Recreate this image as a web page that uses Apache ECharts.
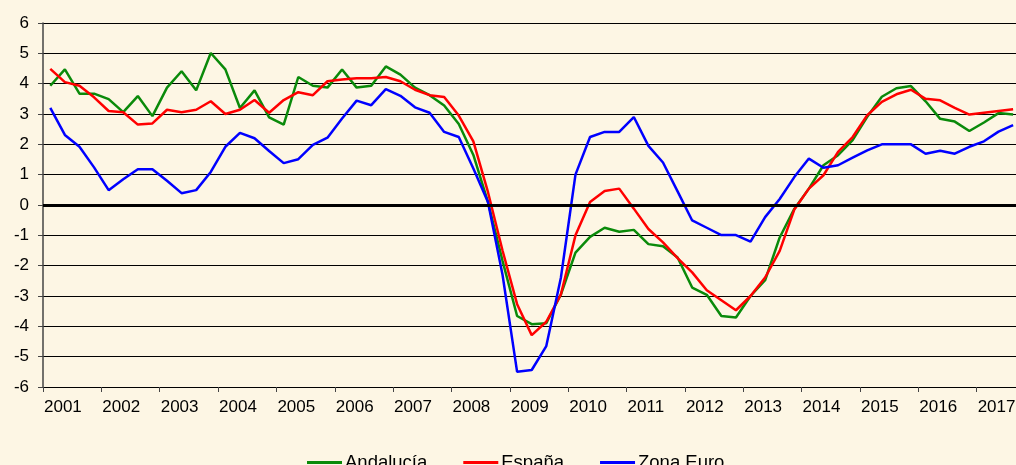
<!DOCTYPE html>
<html>
<head>
<meta charset="utf-8">
<title>Andalucía, España, Zona Euro</title>
<script src="https://cdn.jsdelivr.net/npm/echarts@6/dist/echarts.min.js"></script>
<style>
	* { margin: 0; padding: 0 }
	html, body { width: 100%; height: 100%; background: #FDF6E4; }
	#main { width: 1016px; height: 465px; }
</style>
</head>
<body>
<div id="main"></div>
<script type="text/javascript">
// años (eje X; el último marca el final de 2017) y datos trimestrales 2001T1 - 2017T3
var years = ['2001', '2002', '2003', '2004', '2005', '2006', '2007', '2008', '2009',
	'2010', '2011', '2012', '2013', '2014', '2015', '2016', '2017', ''];
var seriesNames = ['Andalucía', 'España', 'Zona Euro'];

var andalucia = [3.93, 4.47, 3.67, 3.67, 3.49, 3.06, 3.59, 2.93, 3.87, 4.41, 3.78, 5.01,
	4.47, 3.2, 3.78, 2.89, 2.65, 4.22, 3.93, 3.87, 4.47, 3.87, 3.93, 4.57,
	4.3, 3.87, 3.62, 3.28, 2.67, 1.65, 0.1, -1.84, -3.66, -3.93, -3.9, -2.95,
	-1.57, -1.05, -0.75, -0.88, -0.82, -1.29, -1.36, -1.73, -2.72, -2.96, -3.66, -3.71,
	-3.0, -2.48, -1.07, -0.13, 0.54, 1.31, 1.64, 2.14, 2.91, 3.57, 3.85, 3.92,
	3.42, 2.84, 2.75, 2.44, 2.72, 3.03, 2.98];
var espana = [4.49, 4.05, 3.93, 3.55, 3.1, 3.06, 2.65, 2.69, 3.14, 3.06, 3.14, 3.42,
	3.0, 3.14, 3.46, 3.04, 3.46, 3.72, 3.62, 4.08, 4.14, 4.18, 4.18, 4.22,
	4.08, 3.8, 3.62, 3.56, 2.95, 2.1, 0.43, -1.5, -3.27, -4.29, -3.85, -2.95,
	-1.0, 0.1, 0.46, 0.54, -0.12, -0.79, -1.23, -1.75, -2.22, -2.81, -3.14, -3.47,
	-3.0, -2.39, -1.51, -0.15, 0.54, 0.98, 1.75, 2.24, 2.96, 3.4, 3.65, 3.8,
	3.5, 3.45, 3.2, 2.98, 3.04, 3.1, 3.16];
var zonaEuro = [3.2, 2.31, 1.92, 1.24, 0.49, 0.85, 1.18, 1.18, 0.8, 0.39, 0.49, 1.09,
	1.92, 2.38, 2.2, 1.78, 1.38, 1.51, 1.98, 2.22, 2.85, 3.44, 3.29, 3.82,
	3.6, 3.22, 3.04, 2.41, 2.24, 1.2, 0.1, -2.3, -5.5, -5.44, -4.65, -2.4,
	1.0, 2.24, 2.41, 2.41, 2.9, 1.95, 1.4, 0.45, -0.51, -0.75, -0.99, -0.99,
	-1.21, -0.4, 0.2, 0.92, 1.53, 1.23, 1.31, 1.56, 1.8, 2.0, 2.0, 2.0,
	1.69, 1.79, 1.69, 1.92, 2.1, 2.42, 2.63];

// cada trimestre en el centro de su cuarto de año
function toPoints(arr) {
	return arr.map(function(v, i) { return [i + 0.5, v]; });
}

var myChart = echarts.init(document.getElementById('main'));
var fontFamily = '"Liberation Sans", Arial, sans-serif';

function lineSeries(name, data, color) {
	return {
		name: name,
		type: 'line',
		xAxisIndex: 1,
		data: toPoints(data),
		symbol: 'none',
		smooth: false,
		lineStyle: { color: color, width: 2.5 },
		itemStyle: { color: color }
	};
}

var s0 = lineSeries(seriesNames[0], andalucia, '#0A8A0A');
s0.markLine = {
	silent: true,
	symbol: 'none',
	label: { show: false },
	lineStyle: { color: '#000', width: 3, type: 'solid' },
	data: [{ yAxis: 0 }]
};

myChart.setOption({
	backgroundColor: '#FDF6E4',
	animation: false,
	textStyle: { fontFamily: fontFamily },
	// el gráfico original está recortado por la derecha: 2017 sale del lienzo
	grid: { left: 43, right: -19, top: 23, bottom: 78, containLabel: false, outerBoundsMode: 'none' },
	legend: {
		left: 302,
		top: 448,
		icon: 'rect',
		itemWidth: 35,
		itemHeight: 3,
		itemGap: 36,
		textStyle: { fontSize: 18.5, color: '#000', fontFamily: fontFamily, padding: [0, 0, 0, -2] },
		data: seriesNames
	},
	xAxis: [{
		type: 'category',
		data: years,
		boundaryGap: false,
		position: 'bottom',
		axisLine: { onZero: false, lineStyle: { color: '#000', width: 1 } },
		axisTick: { show: true, interval: 0, length: 5, lineStyle: { color: '#444' } },
		axisLabel: { interval: 0, align: 'left', fontSize: 17, color: '#000', margin: 12,
			showMinLabel: true, showMaxLabel: true, hideOverlap: false, padding: [0, 0, 0, 1] },
		splitLine: { show: false }
	}, {
		type: 'value',
		min: 0,
		max: 68,
		show: false
	}],
	yAxis: {
		type: 'value',
		min: -6,
		max: 6,
		interval: 1,
		axisLine: { show: true, lineStyle: { color: '#444', width: 1.5 } },
		axisTick: { show: true, length: 5, lineStyle: { color: '#444' } },
		axisLabel: { fontSize: 17, color: '#000', margin: 14 },
		splitLine: { show: true, lineStyle: { color: '#000', width: 1 } }
	},
	series: [
		s0,
		lineSeries(seriesNames[1], espana, '#FF0000'),
		lineSeries(seriesNames[2], zonaEuro, '#0000FF')
	]
});
</script>
</body>
</html>
